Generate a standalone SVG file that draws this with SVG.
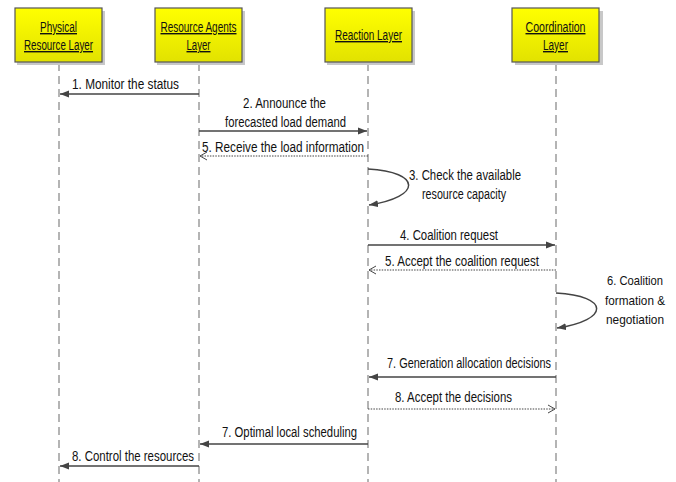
<svg xmlns="http://www.w3.org/2000/svg" width="676" height="482" viewBox="0 0 676 482">
<style>
text{font-family:"Liberation Sans",Arial,sans-serif;font-size:14px;fill:#111;}
.lbl{text-anchor:middle;}
.sm{font-size:13px;}
.hd{text-anchor:middle;text-decoration:underline;}
.box{fill:url(#yg);stroke:#555;stroke-width:1.2;}
.sh{fill:#c8c8c8;}
.life{stroke:#777;stroke-width:1.1;stroke-dasharray:8 5;fill:none;}
.msg{stroke:#444;stroke-width:1.5;fill:none;}
.ret{stroke:#444;stroke-width:1.2;stroke-dasharray:1.5 1.2;fill:none;}
</style>
<defs>
<linearGradient id="yg" x1="0" y1="0" x2="0" y2="1"><stop offset="0" stop-color="#ffff00"/><stop offset="1" stop-color="#e2e200"/></linearGradient>
<marker id="fa" markerWidth="10" markerHeight="8" refX="9" refY="4" orient="auto" markerUnits="userSpaceOnUse"><path d="M0,0.5 L9,4 L0,7.5 Z" fill="#444"/></marker>
<marker id="oa" markerWidth="8" markerHeight="10" refX="7" refY="5" orient="auto" markerUnits="userSpaceOnUse"><path d="M0,1 L7,5 L0,9" fill="none" stroke="#444" stroke-width="1"/></marker>
</defs>
<g id="lifelines">
<line class="life" x1="59" y1="63" x2="59" y2="482"/>
<line class="life" x1="199" y1="63" x2="199" y2="482"/>
<line class="life" x1="368" y1="63" x2="368" y2="482"/>
<line class="life" x1="556" y1="63" x2="556" y2="482"/>
</g>
<g id="physical">
<rect class="sh" x="17" y="11" width="88" height="54"/>
<rect class="box" x="15" y="8" width="87" height="54"/>
<text class="hd" x="58.5" y="32" textLength="37" lengthAdjust="spacingAndGlyphs">Physical</text>
<text class="hd" x="58.5" y="50" textLength="69" lengthAdjust="spacingAndGlyphs">Resource Layer</text>
</g>
<g id="agents">
<rect class="sh" x="157" y="11" width="88" height="54"/>
<rect class="box" x="155" y="8" width="87" height="54"/>
<text class="hd" x="198.5" y="32" textLength="76" lengthAdjust="spacingAndGlyphs">Resource Agents</text>
<text class="hd" x="198.5" y="50" textLength="24" lengthAdjust="spacingAndGlyphs">Layer</text>
</g>
<g id="reaction">
<rect class="sh" x="327" y="11" width="88" height="54"/>
<rect class="box" x="325" y="8" width="87" height="54"/>
<text class="hd" x="368.5" y="40" textLength="67" lengthAdjust="spacingAndGlyphs">Reaction Layer</text>
</g>
<g id="coordination">
<rect class="sh" x="515" y="11" width="88" height="54"/>
<rect class="box" x="512" y="8" width="87" height="54"/>
<text class="hd" x="555.5" y="32" textLength="60" lengthAdjust="spacingAndGlyphs">Coordination</text>
<text class="hd" x="555.5" y="50" textLength="25" lengthAdjust="spacingAndGlyphs">Layer</text>
</g>
<g id="connectors">
<line class="msg" x1="199" y1="94" x2="60" y2="94" marker-end="url(#fa)"/>
<line class="msg" x1="199" y1="131" x2="367" y2="131" marker-end="url(#fa)"/>
<line class="ret" x1="368" y1="156" x2="200" y2="156" marker-end="url(#oa)"/>
<path class="msg" d="M368,169 C422,172 422,197 369,205" marker-end="url(#fa)"/>
<line class="msg" x1="368" y1="245" x2="555" y2="245" marker-end="url(#fa)"/>
<line class="ret" x1="556" y1="270" x2="369" y2="270" marker-end="url(#oa)"/>
<path class="msg" d="M556,293 C610,296 610,320 557,328" marker-end="url(#fa)"/>
<line class="msg" x1="556" y1="377" x2="369" y2="377" marker-end="url(#fa)"/>
<line class="ret" x1="368" y1="409" x2="555" y2="409" marker-end="url(#oa)"/>
<line class="msg" x1="368" y1="444" x2="200" y2="444" marker-end="url(#fa)"/>
<line class="msg" x1="199" y1="466" x2="60" y2="466" marker-end="url(#fa)"/>
</g>
<g id="labels">
<text class="lbl" x="125.5" y="89" textLength="107" lengthAdjust="spacingAndGlyphs">1. Monitor the status</text>
<text class="lbl" x="284.5" y="108" textLength="83" lengthAdjust="spacingAndGlyphs">2. Announce the</text>
<text class="lbl" x="285.5" y="127" textLength="121" lengthAdjust="spacingAndGlyphs">forecasted load demand</text>
<text class="lbl" x="283" y="152" textLength="162" lengthAdjust="spacingAndGlyphs">5. Receive the load information</text>
<text class="lbl" x="465" y="180" textLength="112" lengthAdjust="spacingAndGlyphs">3. Check the available</text>
<text class="lbl" x="464" y="199" textLength="84" lengthAdjust="spacingAndGlyphs">resource capacity</text>
<text class="lbl" x="449" y="240" textLength="98" lengthAdjust="spacingAndGlyphs">4. Coalition request</text>
<text class="lbl" x="462" y="266" textLength="154" lengthAdjust="spacingAndGlyphs">5. Accept the coalition request</text>
<text class="lbl sm" x="635" y="285" textLength="56" lengthAdjust="spacingAndGlyphs">6. Coalition</text>
<text class="lbl sm" x="635" y="305" textLength="60" lengthAdjust="spacingAndGlyphs">formation &amp;</text>
<text class="lbl sm" x="635" y="324" textLength="58" lengthAdjust="spacingAndGlyphs">negotiation</text>
<text class="lbl" x="469" y="368" textLength="164" lengthAdjust="spacingAndGlyphs">7. Generation allocation decisions</text>
<text class="lbl" x="453.5" y="402" textLength="117" lengthAdjust="spacingAndGlyphs">8. Accept the decisions</text>
<text class="lbl" x="289.5" y="437" textLength="135" lengthAdjust="spacingAndGlyphs">7. Optimal local scheduling</text>
<text class="lbl" x="133" y="461" textLength="122" lengthAdjust="spacingAndGlyphs">8. Control the resources</text>
</g>
</svg>
